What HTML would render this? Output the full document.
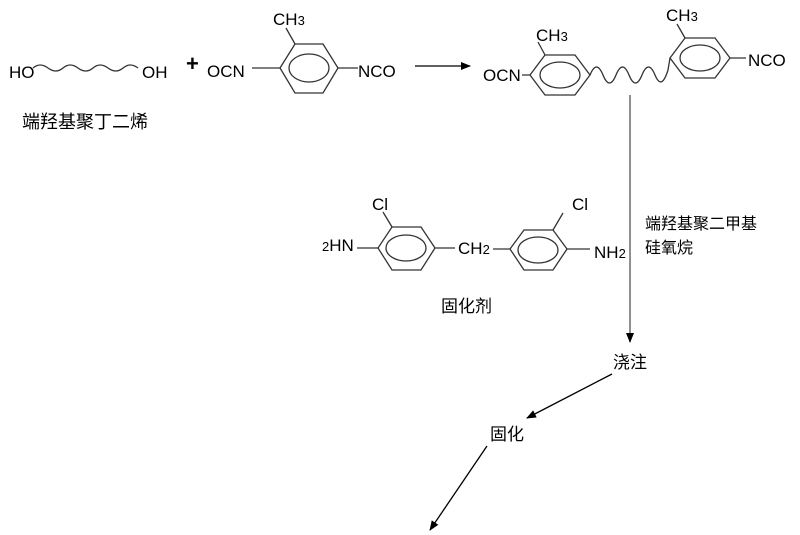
<!DOCTYPE html>
<html><head><meta charset="utf-8"><style>
html,body{margin:0;padding:0;background:#fff;}
svg{display:block;}
text{font-family:"Liberation Sans","Noto Sans CJK SC",sans-serif;fill:#000;}
.c{font-family:"Liberation Sans","Noto Sans CJK SC",sans-serif;font-size:17px;}
</style></head><body>
<svg width="800" height="535" viewBox="0 0 800 535" xmlns="http://www.w3.org/2000/svg">
<defs><marker id="a" markerWidth="10" markerHeight="8" refX="9" refY="4" orient="auto" markerUnits="userSpaceOnUse"><path d="M0,0 L10,4 L0,8z" fill="#000"/></marker></defs>
<g stroke="#333" stroke-width="1.3" fill="none">
<path d="M33,68 q7,-6 15,0 t15,0 t15,0 t15,0 t15,0 t15,0 t15,0"/>
<path d="M280,68 L295,44 L323,44 L338,68 L323,93 L295,93 Z"/>
<ellipse cx="309" cy="68" rx="20" ry="14"/>
<path d="M295,44 L286,28 M252,68 L280,68 M338,68 L358,68"/>
<path d="M530,75 L545,55 L575,55 L590,75 L575,95 L545,95 Z"/>
<ellipse cx="560" cy="75" rx="20" ry="13"/>
<path d="M545,55 L538,42 M522,75 L530,75"/>
<path d="M590,75 q6.5,-16 13,0 t13,0 t13,0 t13,0 t13,0 t13,-5 l2,-12"/>
<path d="M670,58 L685,38 L715,38 L730,58 L715,78 L685,78 Z"/>
<ellipse cx="700" cy="58" rx="20" ry="13"/>
<path d="M685,38 L677,24 M730,58 L746,58"/>
<path d="M378,248 L392,227 L421,227 L435,248 L421,270 L392,270 Z"/>
<ellipse cx="406" cy="248" rx="20" ry="13"/>
<path d="M392,227 L383,212 M357,248 L378,248 M435,248 L455,248"/>
<path d="M510,249 L524,230 L553,230 L567,249 L553,270 L524,270 Z"/>
<ellipse cx="538" cy="250" rx="20" ry="13"/>
<path d="M553,230 L563,213 M567,249 L590,249 M493,249 L510,249"/>
</g>
<g stroke="#000" stroke-width="1.3">
<line x1="415" y1="66" x2="470" y2="66" marker-end="url(#a)"/>
<line x1="630" y1="95" x2="630" y2="342" stroke="#555" marker-end="url(#a)"/>
<line x1="612" y1="374" x2="527" y2="418" marker-end="url(#a)"/>
<line x1="487" y1="446" x2="430" y2="530" marker-end="url(#a)"/>
</g>
<text class="c" x="9" y="78">HO</text>
<text class="c" x="142" y="78">OH</text>
<text x="186" y="71" font-size="22" font-weight="bold">+</text>
<text class="c" x="207" y="77">OCN</text>
<text class="c" x="358" y="77">NCO</text>
<text class="c" x="273" y="25">CH<tspan font-size="13">3</tspan></text>
<text class="c" x="483" y="81">OCN</text>
<text class="c" x="536" y="41">CH<tspan font-size="13">3</tspan></text>
<text class="c" x="666" y="21">CH<tspan font-size="13">3</tspan></text>
<text class="c" x="748" y="66">NCO</text>
<text class="c" x="372" y="210">Cl</text>
<text class="c" x="322" y="251"><tspan font-size="13">2</tspan>HN</text>
<text class="c" x="458" y="254">CH<tspan font-size="13">2</tspan></text>
<text class="c" x="572" y="210">Cl</text>
<text class="c" x="594" y="258">NH<tspan font-size="13">2</tspan></text>
<text x="22" y="128" font-size="18">端羟基聚丁二烯</text>
<text x="441" y="312" font-size="17">固化剂</text>
<text x="645" y="229" font-size="16">端羟基聚二甲基</text>
<text x="645" y="253" font-size="16">硅氧烷</text>
<text x="613" y="368" font-size="17">浇注</text>
<text x="490" y="440" font-size="17">固化</text>
</svg>
</body></html>
